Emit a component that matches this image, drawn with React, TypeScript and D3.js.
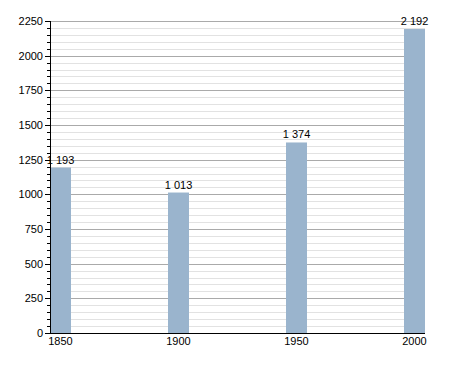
import React from "react";
import * as d3 from "d3";

const years = [1850, 1900, 1950, 2000];
const population = [1193, 1013, 1374, 2192];
const valueLabels = ["1 193", "1 013", "1 374", "2 192"];
const yMajorTicks = [0, 250, 500, 750, 1000, 1250, 1500, 1750, 2000, 2250];

export default function App() {
  const W = 455, H = 373;
  const left = 50, right = 425, top = 21, bottom = 333;
  const barW = 21;
  const x = d3.scaleLinear().domain([1850, 2000]).range([left, right - barW]);
  const y = d3.scaleLinear().domain([0, 2250]).range([bottom, top]);
  const minor = d3.range(0, 2251, 50);
  const font = "'Liberation Sans', Arial, sans-serif";
  return (
    <svg width={W} height={H} style={{ position: "absolute", left: 0, top: 0, background: "#fff" }}>
      {minor.filter(v => v % 250 !== 0).map(v => (
        <line key={"m" + v} x1={left} x2={right} y1={Math.round(y(v)) + 0.5} y2={Math.round(y(v)) + 0.5} stroke="#e2e2e2" strokeWidth={1} />
      ))}
      {yMajorTicks.filter(v => v !== 0).map(v => (
        <line key={"g" + v} x1={left} x2={right} y1={Math.round(y(v)) + 0.5} y2={Math.round(y(v)) + 0.5} stroke="#aaaaaa" strokeWidth={1} />
      ))}
      {years.map((yr, i) => (
        <rect key={yr} x={x(yr)} y={y(population[i])} width={barW} height={bottom - y(population[i])} fill="#9ab4cd" />
      ))}
      {minor.map(v => (
        <line key={"t" + v} x1={v % 250 === 0 ? left - 5 : left - 3} x2={left} y1={Math.round(y(v)) + 0.5} y2={Math.round(y(v)) + 0.5} stroke="#000" strokeWidth={1} />
      ))}
      <line x1={left + 0.5} x2={left + 0.5} y1={top} y2={bottom} stroke="#000" strokeWidth={1} />
      <line x1={left} x2={right} y1={bottom + 0.5} y2={bottom + 0.5} stroke="#000" strokeWidth={1} />
      {yMajorTicks.map(v => (
        <text key={"l" + v} x={left - 7} y={y(v)} dy="0.35em" textAnchor="end" fontFamily={font} fontSize={11} fill="#000">{v}</text>
      ))}
      {years.map((yr, i) => (
        <text key={"x" + yr} x={x(yr) + barW / 2} y={bottom + 12} textAnchor="middle" fontFamily={font} fontSize={11} fill="#000">{yr}</text>
      ))}
      {years.map((yr, i) => (
        <text key={"v" + yr} x={x(yr) + barW / 2} y={y(population[i]) - 4} textAnchor="middle" fontFamily={font} fontSize={11} fill="#000">{valueLabels[i]}</text>
      ))}
    </svg>
  );
}
